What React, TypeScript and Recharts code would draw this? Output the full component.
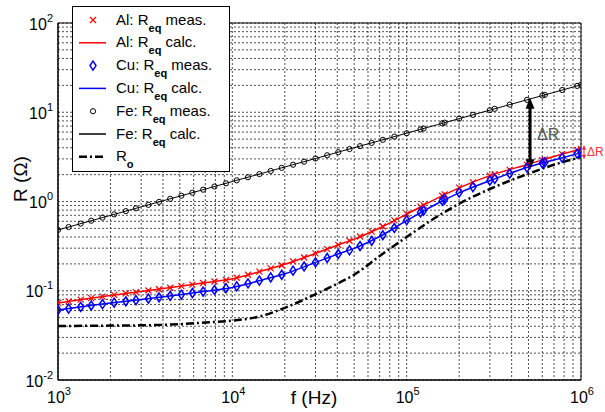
import React from "react"
import { ComposedChart, Line, XAxis, YAxis, CartesianGrid, ReferenceLine, ReferenceArea, Legend } from "recharts"

const FONT = '"Liberation Sans", Arial, Helvetica, sans-serif'

// log axes: decades carry labels, every 2..9 step gets a grid line
const xDecades = [1e3, 1e4, 1e5, 1e6]
const yDecades = [1e-2, 1e-1, 1, 1e1, 1e2]
const minorSteps = [2, 3, 4, 5, 6, 7, 8, 9]
const withMinor = (decades: number[]) =>
  decades.flatMap((d, i) => (i === decades.length - 1 ? [d] : [d, ...minorSteps.map((m) => d * m)]))
const xTicks = withMinor(xDecades)
const yTicks = withMinor(yDecades)

// measured frequencies (Hz)
const measF = [
  1000, 1150, 1350, 1550, 1800, 2100, 2450, 2800, 3300, 3800, 4400, 5100, 5900, 6800, 7900, 9200,
  10600, 12300, 14300, 16600, 19200, 22300, 25800, 30000, 35000, 40500, 47000, 54000, 63000, 73000, 85000,
  100000, 120000, 125000, 160000, 165000, 200000, 240000, 300000, 320000, 390000, 490000, 600000, 620000,
  780000, 950000, 1000000,
]
const alMeas = [
  0.073, 0.076, 0.0796, 0.0828, 0.0861, 0.0898, 0.0933, 0.0966, 0.1007, 0.104, 0.108, 0.1125, 0.117, 0.122, 0.127, 0.132,
  0.14, 0.151, 0.164, 0.178, 0.193, 0.213, 0.236, 0.262, 0.293, 0.327, 0.363, 0.405, 0.46, 0.525, 0.615,
  0.728, 0.875, 0.912, 1.16, 1.2, 1.43, 1.64, 1.95, 2.02, 2.26, 2.57, 2.91, 2.97, 3.39, 3.77, 3.87,
]
const cuMeas = [
  0.0608, 0.0631, 0.0659, 0.0683, 0.0709, 0.0736, 0.0762, 0.0785, 0.0815, 0.0843, 0.0874, 0.0906, 0.0942, 0.0979, 0.102, 0.107,
  0.112, 0.121, 0.13, 0.141, 0.151, 0.168, 0.187, 0.208, 0.233, 0.258, 0.284, 0.317, 0.363, 0.419, 0.505,
  0.617, 0.754, 0.789, 1.02, 1.05, 1.26, 1.45, 1.71, 1.79, 2.05, 2.4, 2.69, 2.74, 3.1, 3.44, 3.52,
]
const feMeas = [
  0.48, 0.518, 0.565, 0.609, 0.66, 0.718, 0.78, 0.839, 0.917, 0.99, 1.072, 1.161, 1.256, 1.357, 1.471, 1.598,
  1.726, 1.87, 2.029, 2.2, 2.382, 2.583, 2.795, 3.033, 3.298, 3.568, 3.868, 4.171, 4.534, 4.91, 5.333,
  5.823, 6.427, 6.571, 7.512, 7.642, 8.477, 9.36, 10.56, 10.94, 12.18, 13.79, 15.38, 15.66, 17.73, 19.73, 20.29,
]

// calculated curves
const calcF = [
  1000, 1500, 2000, 3000, 5000, 7000, 10000, 15000, 20000, 30000, 40000, 50000, 70000,
  100000, 150000, 200000, 300000, 500000, 700000, 1000000,
]
const alCalc = [0.0729, 0.0821, 0.0887, 0.0981, 0.112, 0.123, 0.136, 0.168, 0.198, 0.262, 0.324, 0.379, 0.505, 0.72, 1.09, 1.42, 1.95, 2.62, 3.2, 3.87]
const cuCalc = [0.0608, 0.0678, 0.0727, 0.0796, 0.0901, 0.0986, 0.109, 0.133, 0.155, 0.208, 0.256, 0.298, 0.405, 0.61, 0.95, 1.25, 1.71, 2.44, 2.92, 3.52]
const feCalc = [0.48, 0.598, 0.699, 0.871, 1.149, 1.378, 1.675, 2.083, 2.44, 3.03, 3.55, 4.01, 4.8, 5.82, 7.26, 8.48, 10.56, 13.94, 16.7, 20.3]
const r0Calc = [0.0403, 0.0405, 0.0407, 0.041, 0.0422, 0.0441, 0.0462, 0.0527, 0.0644, 0.0914, 0.12, 0.151, 0.245, 0.4, 0.68, 0.944, 1.38, 2.05, 2.58, 3.15]

// ΔR annotation: Fe vs Cu at ~510 kHz, small red one at 1 MHz
const deltaF = 510000
const deltaTop = 14.5
const deltaBottom = 2.25
const redDeltaTop = 4.3
const redDeltaBottom = 2.95

const pts = (fs: number[], rs: number[]) => fs.map((f, i) => ({ f, r: rs[i] }))

const isDecade = (v: number) => Math.abs(Math.log10(v) - Math.round(Math.log10(v))) < 1e-6

const XTick = (p: any) => {
  const v = p.payload.value
  if (!isDecade(v)) return <g />
  return (
    <text x={p.x + 1} y={403} textAnchor="middle" fontSize={16} fontFamily={FONT} fill="#000">
      10<tspan dy={-8} fontSize={11}>{Math.round(Math.log10(v))}</tspan>
    </text>
  )
}

const YTick = (p: any) => {
  const v = p.payload.value
  if (!isDecade(v)) return <g />
  return (
    <text x={53} y={p.y + 6.5} textAnchor="end" fontSize={16} fontFamily={FONT} fill="#000">
      10<tspan dy={-8} fontSize={11}>{Math.round(Math.log10(v))}</tspan>
    </text>
  )
}

const cross = (cx: number, cy: number, color: string, key: any) => (
  <path key={key} d={`M${cx - 3},${cy - 3}L${cx + 3},${cy + 3}M${cx - 3},${cy + 3}L${cx + 3},${cy - 3}`} stroke={color} strokeWidth={1.2} fill="none" />
)
const diamond = (cx: number, cy: number, color: string, key: any) => (
  <path key={key} d={`M${cx},${cy - 4.5}L${cx + 3},${cy}L${cx},${cy + 4.5}L${cx - 3},${cy}Z`} stroke={color} strokeWidth={1.5} fill="none" />
)
const ring = (cx: number, cy: number, color: string, key: any) => (
  <circle key={key} cx={cx} cy={cy} r={2.6} stroke={color} strokeWidth={1} fill="none" />
)

const DoubleArrow = ({ x1, y1, y2, dx, color, width, head, labelColor, labelDx, labelSize }: any) => {
  const x = x1 + dx
  const top = Math.min(y1, y2)
  const bot = Math.max(y1, y2)
  return (
    <g>
      <line x1={x} y1={top + head * 1.1} x2={x} y2={bot - head * 1.1} stroke={color} strokeWidth={width} />
      <path d={`M${x},${top}L${x - head / 2},${top + head * 1.2}L${x + head / 2},${top + head * 1.2}Z`} fill={color} />
      <path d={`M${x},${bot}L${x - head / 2},${bot - head * 1.2}L${x + head / 2},${bot - head * 1.2}Z`} fill={color} />
      <text x={x + labelDx} y={(top + bot) / 2 + labelSize * 0.35} fontSize={labelSize} fontFamily={FONT} fill={labelColor}>
        ΔR
      </text>
    </g>
  )
}

const legendRows = [
  { name: "Al: ", sub: "eq", tail: " meas.", kind: "cross", color: "#ff0000" },
  { name: "Al: ", sub: "eq", tail: " calc.", kind: "line", color: "#ff0000" },
  { name: "Cu: ", sub: "eq", tail: " meas.", kind: "diamond", color: "#0000ff" },
  { name: "Cu: ", sub: "eq", tail: " calc.", kind: "line", color: "#0000ff" },
  { name: "Fe: ", sub: "eq", tail: " meas.", kind: "ring", color: "#000" },
  { name: "Fe: ", sub: "eq", tail: " calc.", kind: "line", color: "#000" },
  { name: "", sub: "o", tail: "", kind: "dashdot", color: "#000" },
]

const LegendBox = () => (
  <svg width={158} height={166} style={{ display: "block" }}>
    <rect x={0.5} y={0.5} width={157} height={165} fill="#fff" stroke="#000" />
    {legendRows.map((row, i) => {
      const cy = 14 + 22.8 * i
      let sample
      if (row.kind === "cross") sample = cross(21, cy, row.color, "m")
      else if (row.kind === "diamond") sample = diamond(21, cy, row.color, "m")
      else if (row.kind === "ring") sample = ring(21, cy, row.color, "m")
      else if (row.kind === "dashdot")
        sample = <line x1={7} y1={cy} x2={34} y2={cy} stroke="#000" strokeWidth={2.5} strokeDasharray="8 3 2 3" />
      else sample = <line x1={7} y1={cy} x2={34} y2={cy} stroke={row.color} strokeWidth={1.5} />
      return (
        <g key={i}>
          {sample}
          <text x={44} y={cy + 4.5} fontSize={15} fontFamily={FONT} fill="#000">
            {row.name}R
            <tspan dy={7} fontSize={11} fontWeight="bold">{row.sub}</tspan>
            {row.tail ? <tspan dy={-7}>{row.tail}</tspan> : null}
          </text>
        </g>
      )
    })}
  </svg>
)

export default function App() {
  return (
    <div style={{ position: "absolute", left: 0, top: 0, width: 605, height: 412, background: "#fff" }}>
      <ComposedChart width={605} height={412} margin={{ top: 23, right: 24, bottom: 0, left: 0 }}>
        <CartesianGrid stroke="#222" strokeDasharray="2 2" strokeWidth={0.8} />
        <XAxis
          dataKey="f"
          type="number"
          scale="log"
          domain={[1e3, 1e6]}
          ticks={xTicks}
          interval={0}
          allowDataOverflow
          tick={(p: any) => <XTick {...p} />}
          tickLine={false}
          axisLine={{ stroke: "#000" }}
          height={32}
        />
        <YAxis
          dataKey="r"
          type="number"
          scale="log"
          domain={[0.01, 100]}
          ticks={yTicks}
          interval={0}
          allowDataOverflow
          tick={(p: any) => <YTick {...p} />}
          tickLine={false}
          axisLine={{ stroke: "#000" }}
          width={58}
        />
        <Line data={pts(measF, alMeas)} dataKey="r" stroke="none" isAnimationActive={false} activeDot={false}
          dot={(p: any) => cross(p.cx, p.cy, "#ff0000", p.index)} />
        <Line data={pts(calcF, alCalc)} dataKey="r" type="monotone" stroke="#ff0000" strokeWidth={1.5} dot={false} activeDot={false} isAnimationActive={false} />
        <Line data={pts(measF, cuMeas)} dataKey="r" stroke="none" isAnimationActive={false} activeDot={false}
          dot={(p: any) => diamond(p.cx, p.cy, "#0000ff", p.index)} />
        <Line data={pts(calcF, cuCalc)} dataKey="r" type="monotone" stroke="#0000ff" strokeWidth={1.5} dot={false} activeDot={false} isAnimationActive={false} />
        <Line data={pts(measF, feMeas)} dataKey="r" stroke="none" isAnimationActive={false} activeDot={false}
          dot={(p: any) => ring(p.cx, p.cy, "#000", p.index)} />
        <Line data={pts(calcF, feCalc)} dataKey="r" type="monotone" stroke="#000" strokeWidth={1} dot={false} activeDot={false} isAnimationActive={false} />
        <Line data={pts(calcF, r0Calc)} dataKey="r" type="monotone" stroke="#000" strokeWidth={2.5} strokeDasharray="8 3 2 3" dot={false} activeDot={false} isAnimationActive={false} />
        <ReferenceArea x1={1e3} x2={1e6} y1={0.01} y2={100} fill="none" stroke="#000" strokeWidth={1} ifOverflow="visible" />
        <ReferenceLine
          segment={[{ x: deltaF, y: deltaTop }, { x: deltaF, y: deltaBottom }]}
          ifOverflow="visible"
          shape={(p: any) => (
            <DoubleArrow {...p} dx={0} color="#000" width={3} head={9} labelColor="#555" labelDx={7} labelSize={16} />
          )}
        />
        <ReferenceLine
          segment={[{ x: 1e6, y: redDeltaTop }, { x: 1e6, y: redDeltaBottom }]}
          ifOverflow="visible"
          shape={(p: any) => (
            <DoubleArrow {...p} dx={3} color="#ff2020" width={1} head={4} labelColor="#ff3030" labelDx={3} labelSize={12} />
          )}
        />
        <Legend
          layout="vertical"
          align="center"
          verticalAlign="middle"
          wrapperStyle={{ left: 72, top: 6, width: 158, height: 166 }}
          content={() => <LegendBox />}
        />
      </ComposedChart>
      <div
        style={{ position: "absolute", left: 0, top: 0, width: 605, height: 412, pointerEvents: "none" }}
      >
        <svg width={605} height={412}>
          <text x={314} y={404} textAnchor="middle" fontSize={19} fontFamily={FONT} fill="#000">f (Hz)</text>
          <text x={27} y={179} textAnchor="middle" fontSize={19} fontFamily={FONT} fill="#000" transform="rotate(-90, 27, 179)">R (Ω)</text>
        </svg>
      </div>
    </div>
  )
}
